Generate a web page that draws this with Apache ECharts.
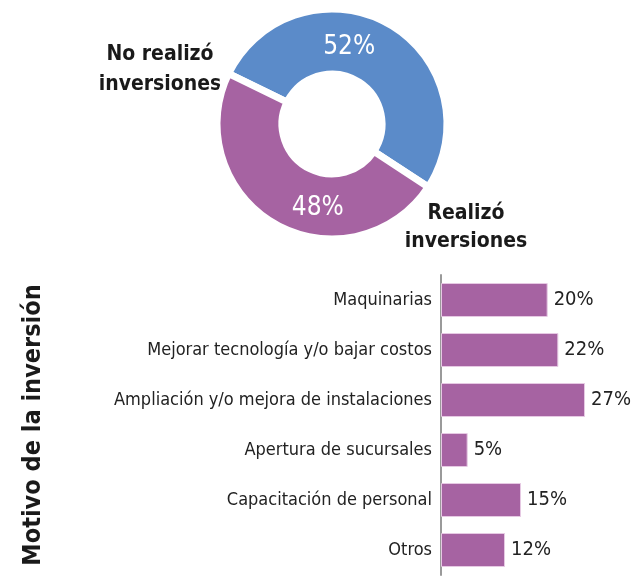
<!DOCTYPE html>
<html>
<head>
<meta charset="utf-8">
<script src="https://cdn.jsdelivr.net/npm/echarts@6/dist/echarts.min.js"></script>
<style>
  html, body { margin: 0; padding: 0; background: #fff; }
  #chart { width: 637px; height: 578px; }
</style>
</head>
<body>
<div id="chart"></div>
<script>
// donut: realizó / no realizó inversiones
const pieNames = ['No realizó\ninversiones', 'Realizó\ninversiones'];
const pieValues = [52, 48];

// barras: motivo de la inversión
const motivos = [
  'Maquinarias',
  'Mejorar tecnología y/o bajar costos',
  'Ampliación y/o mejora de instalaciones',
  'Apertura de sucursales',
  'Capacitación de personal',
  'Otros'
];
const motivoValues = [20, 22, 27, 5, 15, 12];

const FONT = '"Liberation Sans Narrow", "DejaVu Sans Condensed", "Liberation Sans", sans-serif';
const BLUE = '#5b8bc9';
const PURPLE = '#a663a2';

const myChart = echarts.init(document.getElementById('chart'));

// desplazamiento de las etiquetas de porcentaje dentro del anillo
const labelShift = [[-25, -2], [28, 10]];

myChart.setOption({
  animation: false,
  textStyle: { fontFamily: FONT },
  grid: {
    left: 441,
    top: 275,
    width: 160,
    height: 300
  },
  xAxis: {
    type: 'value',
    min: 0,
    max: 30,
    show: false
  },
  yAxis: {
    type: 'category',
    inverse: true,
    data: motivos,
    axisLine: { lineStyle: { color: '#9a9a9a', width: 2 } },
    axisTick: { show: false },
    axisLabel: { color: '#222', fontSize: 18, fontFamily: FONT, margin: 9 },
    name: 'Motivo de la inversión',
    nameLocation: 'middle',
    nameRotate: 90,
    nameGap: 395,
    nameTextStyle: { color: '#1a1a1a', fontSize: 25, fontWeight: 'bold', fontFamily: FONT }
  },
  series: [
    {
      type: 'pie',
      center: [332, 124],
      radius: [50, 115],
      startAngle: 154,
      clockwise: true,
      itemStyle: { borderColor: '#fff', borderWidth: 7 },
      label: {
        position: 'inside',
        formatter: '{c}%',
        color: '#fff',
        fontSize: 26,
        fontFamily: FONT
      },
      labelLayout: function (p) {
        const s = labelShift[p.dataIndex];
        return { dx: s[0], dy: s[1] };
      },
      labelLine: { show: false },
      emphasis: { disabled: true },
      data: pieValues.map((v, i) => ({
        name: pieNames[i],
        value: v,
        itemStyle: { color: i === 0 ? BLUE : PURPLE }
      }))
    },
    {
      type: 'bar',
      data: motivoValues,
      barCategoryGap: '32%',
      itemStyle: { color: PURPLE, borderColor: '#e6c9e3', borderWidth: 1 },
      label: {
        show: true,
        position: 'right',
        formatter: '{c}%',
        color: '#222',
        fontSize: 20,
        fontFamily: FONT,
        distance: 6
      },
      emphasis: { disabled: true }
    }
  ],
  graphic: [
    {
      type: 'text',
      x: 160,
      y: 40,
      style: {
        text: pieNames[0],
        font: 'bold 21px ' + FONT,
        fill: '#1a1a1a',
        align: 'center',
        lineHeight: 30
      }
    },
    {
      type: 'text',
      x: 466,
      y: 200,
      style: {
        text: pieNames[1],
        font: 'bold 21px ' + FONT,
        fill: '#1a1a1a',
        align: 'center',
        lineHeight: 28
      }
    }
  ]
});
</script>
</body>
</html>
